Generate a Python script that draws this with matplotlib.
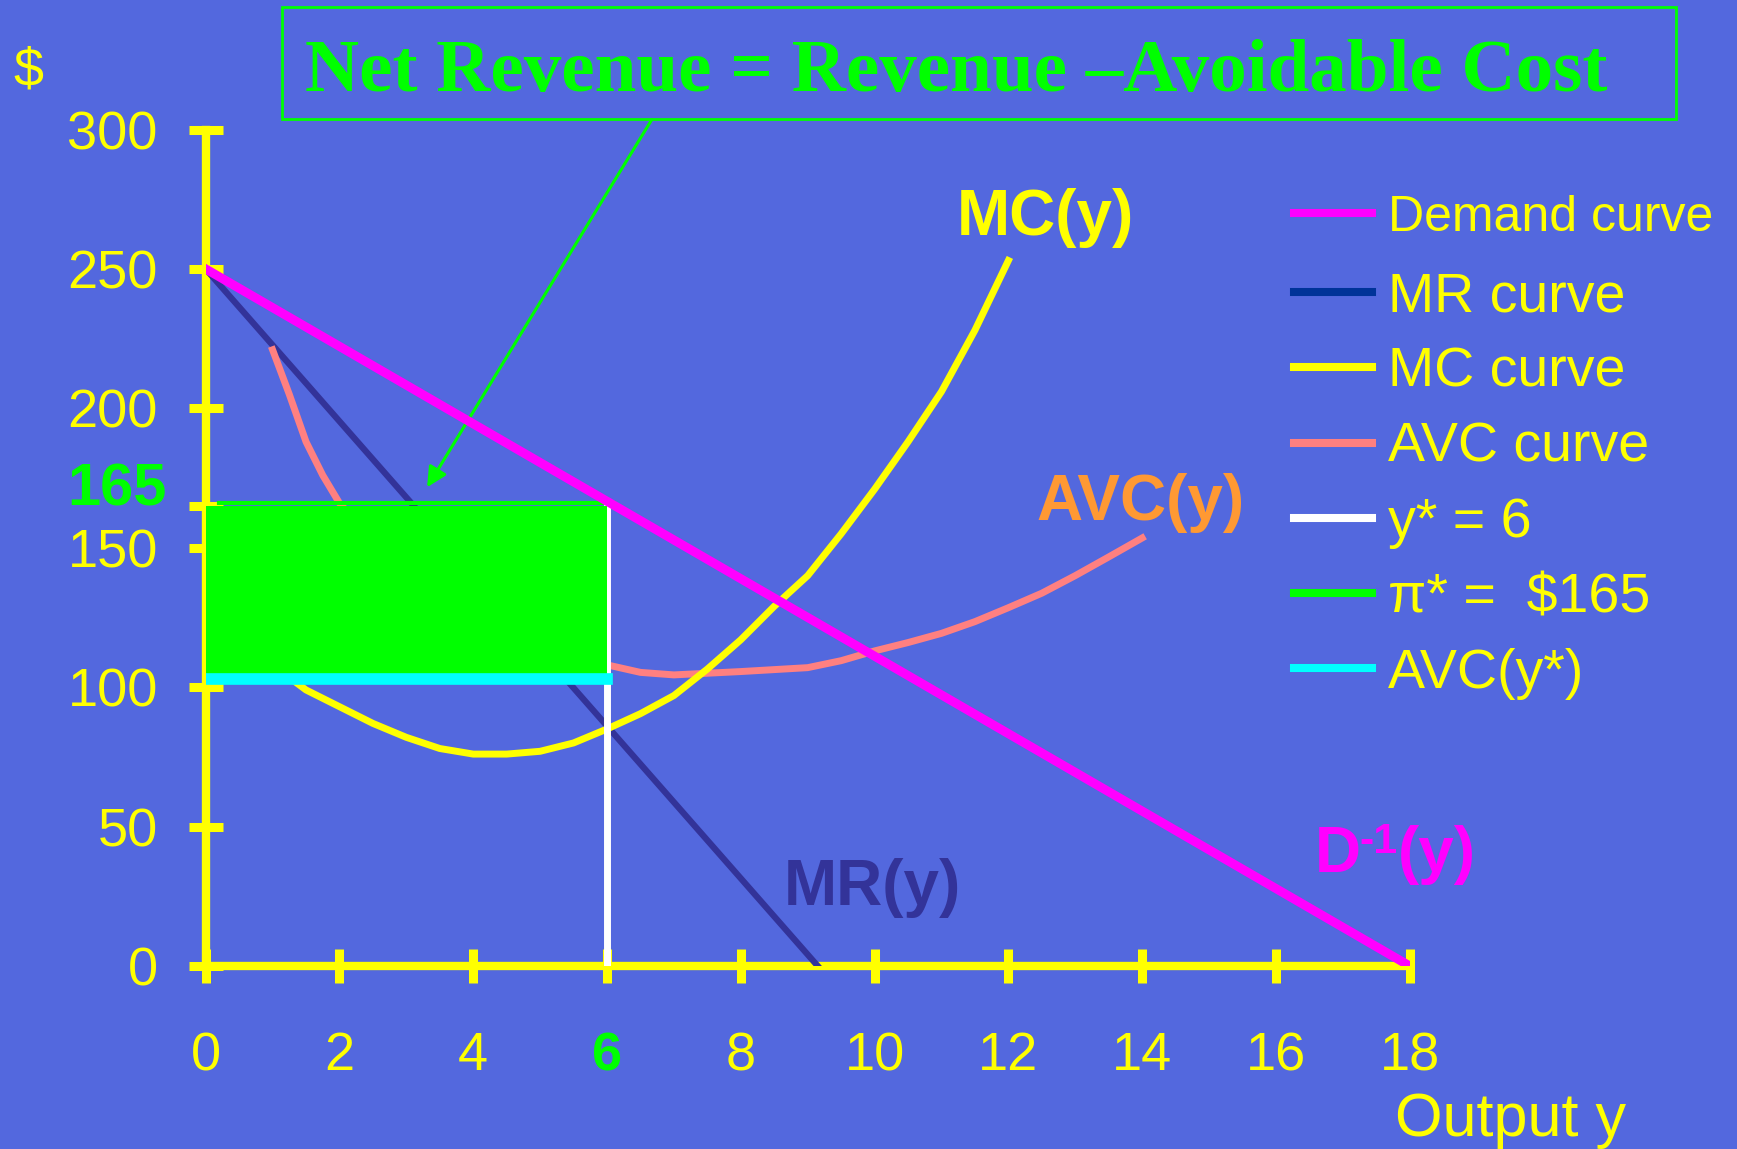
import matplotlib.pyplot as plt
from matplotlib.lines import Line2D
from matplotlib.patches import Rectangle

plt.rcParams['font.family'] = ['Liberation Sans', 'DejaVu Sans']

BG = '#5368DE'
YEL = '#FFFF00'
GRN = '#00FF00'
MAG = '#FF00FF'
NAVY = '#333399'
PINK = '#FF8080'
CYAN = '#00FFFF'

# inverse demand and marginal revenue
demand_y = [0, 18]
demand_p = [250, 0]
mr_y = [0, 9.15]
mr_p = [250, 0]

# marginal cost
mc_y = [1, 1.5, 2, 2.5, 3, 3.5, 4, 4.5, 5, 5.5, 6, 6.5, 7, 7.5, 8, 8.5, 9, 9.5,
        10, 10.5, 11, 11.5, 12]
mc_p = [108, 99, 93, 87, 82, 78, 76, 76, 77, 80, 85, 90.5, 97, 106.5, 117, 129,
        140, 155, 171, 188, 206, 228, 253]

# average variable cost
avc_y = [1, 1.25, 1.5, 1.75, 2, 3, 4, 5, 6, 6.5, 7, 7.5, 8, 8.5, 9, 9.5, 10,
         10.5, 11, 11.5, 12, 12.5, 13, 13.5, 14]
avc_p = [221, 205, 188, 176, 166, 140, 124, 113, 108, 105.3, 104.4, 105, 105.6,
         106.3, 107, 109.5, 113, 116, 119.3, 123.5, 128.5, 133.7, 140, 146.7, 153.5]

y_star = 6
p_star = 165
avc_star = 103

xticks = list(range(0, 19, 2))
yticks = [0, 50, 100, 150, 200, 250, 300]

fig = plt.figure(figsize=(17.37, 11.49), dpi=100, facecolor=BG)
ax = fig.add_axes([0.11842, 0.15927, 0.69315, 0.72802])
ax.set_facecolor(BG)
ax.set_xlim(0, 18)
ax.set_ylim(0, 300)

for s in ['top', 'right']:
    ax.spines[s].set_visible(False)
for s in ['left', 'bottom']:
    ax.spines[s].set_color(YEL)
    ax.spines[s].set_linewidth(6)

ax.set_xticks(xticks)
ax.set_yticks(yticks)
ax.set_yticks([p_star], minor=True)
ax.tick_params(which='both', direction='inout', length=25, width=6.5, color=YEL,
               labelcolor=YEL, labelsize=39)
ax.tick_params(axis='y', which='minor', labelleft=False)
ax.tick_params(axis='y', pad=22)
ax.tick_params(axis='x', pad=34.5)
for lab in ax.get_xticklabels():
    if lab.get_text() == str(y_star):
        lab.set_color(GRN)
        lab.set_fontweight('bold')

# curves
ax.plot(mr_y, mr_p, color=NAVY, lw=4.5, zorder=3)
ax.plot(avc_y, avc_p, color=PINK, lw=5, zorder=3)
ax.plot(mc_y, mc_p, color=YEL, lw=5, zorder=3)
ax.plot([y_star, y_star], [0, p_star + 1.5], color='white', lw=5, zorder=3.5)

# net revenue rectangle
ax.add_patch(Rectangle((0, avc_star), y_star, p_star - avc_star, facecolor=GRN,
                       edgecolor='none', zorder=4))
ax.plot([0.2, y_star + 0.1], [p_star + 1, p_star + 1], color=GRN, lw=3, zorder=4)
ax.plot([0, y_star], [avc_star, avc_star], color=CYAN, lw=8.4, zorder=5)
ax.plot(demand_y, demand_p, color=MAG, lw=6.5, zorder=6)

# curve labels
ax.text(12.55, 262, 'MC(y)', color=YEL, fontsize=46, fontweight='bold',
        ha='center', va='baseline')
ax.text(13.98, 160, 'AVC(y)', color='#FF9933', fontsize=46, fontweight='bold',
        ha='center', va='baseline')
ax.text(9.97, 22, 'MR(y)', color=NAVY, fontsize=46, fontweight='bold',
        ha='center', va='baseline')
d_txt = ax.text(16.58, 33.7, 'D', color=MAG, fontsize=46, fontweight='bold',
                ha='left', va='baseline')
sup_txt = ax.annotate('-1', xy=(1, 1), xycoords=d_txt, xytext=(-1, 2),
                      textcoords='offset points', color=MAG, fontsize=31,
                      fontweight='bold', ha='left', va='top')
ax.annotate('(y)', xy=(1, 0), xycoords=(sup_txt, d_txt), xytext=(0, 0),
            textcoords='offset points', color=MAG, fontsize=46, fontweight='bold',
            ha='left', va='bottom')
ax.text(-0.59, p_star, str(p_star), color=GRN, fontsize=43, fontweight='bold',
        ha='right', va='baseline')

# title box and arrow
fig.patches.append(Rectangle((0.1624, 0.8964), 0.8025, 0.0975, transform=fig.transFigure,
                             fill=False, edgecolor=GRN, lw=2))
fig.text(0.1756, 0.9208, 'Net Revenue = Revenue \u2013Avoidable Cost', color=GRN,
         fontsize=54, fontweight='bold', family='Liberation Serif',
         ha='left', va='baseline')
ax.annotate('', xy=(3.31, 171.7), xytext=(6.67, 303.6), annotation_clip=False,
            arrowprops=dict(arrowstyle='-|>', color=GRN, lw=2.2, mutation_scale=30,
                            shrinkA=0, shrinkB=0))

fig.text(0.0075, 0.926, '$', color=YEL, fontsize=39, ha='left', va='baseline')
fig.text(0.8031, 0.0113, 'Output y', color=YEL, fontsize=44, ha='left', va='baseline')

# legend: first entry is set a bit smaller than the rest
leg_colors = [MAG, '#003399', YEL, PINK, 'white', GRN, CYAN]
labels = ['Demand curve', 'MR curve', 'MC curve', 'AVC curve', 'y* = 6',
          '\u03c0* =  $165', 'AVC(y*)']
handles = [Line2D([], [], color=c, lw=5.8) for c in leg_colors]

fig.legend(handles[:1], labels[:1], loc='upper left', bbox_to_anchor=(0.745, 0.8305),
           bbox_transform=fig.transFigure, frameon=False, fontsize=36,
           borderpad=0, borderaxespad=0, handlelength=1.56, handletextpad=0.32,
           labelcolor=YEL)
fig.legend(handles[1:], labels[1:], loc='upper left', bbox_to_anchor=(0.745, 0.7637),
           bbox_transform=fig.transFigure, frameon=False, fontsize=40,
           borderpad=0, borderaxespad=0, handlelength=1.40, handletextpad=0.29,
           labelspacing=0.418, labelcolor=YEL)

fig.savefig('out.png', dpi=100, facecolor=BG)
